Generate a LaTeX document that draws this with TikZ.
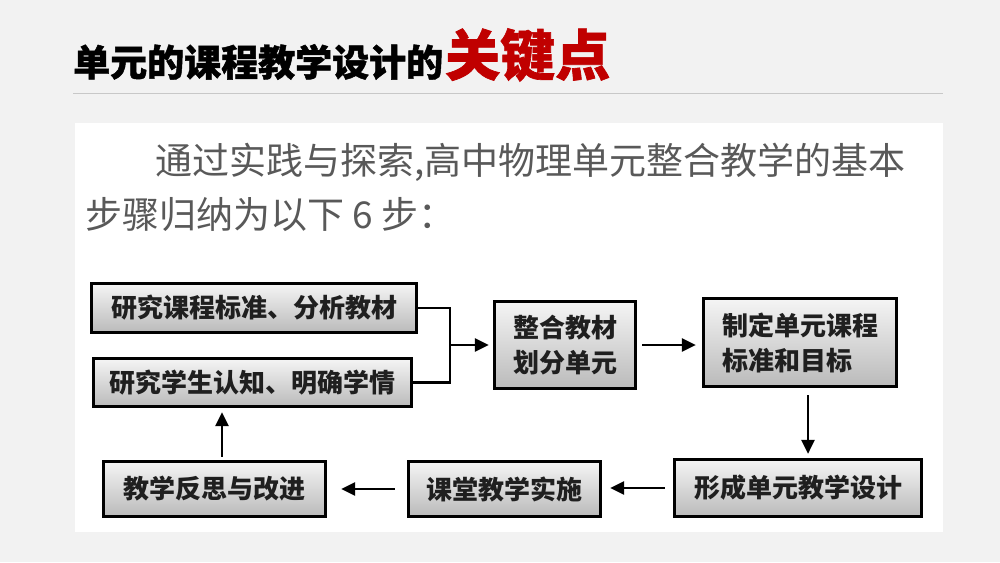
\documentclass[tikz,border=0pt]{standalone}
\usepackage{fontspec}
\usetikzlibrary{arrows.meta}
\newfontfamily\hei{Noto Sans CJK SC}
\newfontfamily\titlef{Noto Sans CJK SC}[BoldFeatures={FakeBold=1.2}]
\definecolor{bgc}{HTML}{F2F2F2}
\definecolor{titlered}{HTML}{C00000}
\definecolor{introc}{HTML}{595959}
\definecolor{rulec}{HTML}{C8C8C8}
\begin{document}
\begin{tikzpicture}[x=1pt,y=-1pt,
  % the y axis points down here, so the shading's "bottom" colour shows at the visual top
  stepbox/.style={draw=black, line width=3.2pt, top color=white!96!black, bottom color=black!27,
    inner sep=0pt, text=black!88, font=\hei\bfseries\fontsize{26}{35}\selectfont},
  intro/.style={anchor=west, inner sep=0pt, text=introc, font=\hei\fontsize{37}{37}\selectfont},
  arr/.style={line width=2.6pt, -{Triangle[length=14pt,width=13pt]}},
  link/.style={line width=2.6pt}]
\fill[bgc] (0,0) rectangle (1000,562);
\useasboundingbox (0,0) rectangle (1000,562);
% title
\node[anchor=west, inner sep=0pt, font=\titlef\bfseries\fontsize{37}{37}\selectfont] (t1) at (73,62) {单元的课程教学设计的};
\node[anchor=west, inner sep=0pt, text=titlered, font=\titlef\bfseries\fontsize{55}{55}\selectfont] (t2) at (445,55) {关键点};
\draw[rulec, line width=1pt] (73,93) -- (943,93);
% panel
\fill[white] (75,123) rectangle (943,532);
\node[intro] (p1) at (155,162) {通过实践与探索,高中物理单元整合教学的基本};
\node[intro] (p2) at (85,215) {步骤归纳为以下 6 步：};
% boxes
\node[stepbox, minimum width=325pt, minimum height=49pt] (A) at (254,308) {研究课程标准、分析教材};
\node[stepbox, minimum width=318pt, minimum height=48pt] (B) at (252.5,382.5) {研究学生认知、明确学情};
\node[stepbox, minimum width=141pt, minimum height=87pt, align=center] (C) at (565,345) {整合教材\\划分单元};
\node[stepbox, minimum width=193pt, minimum height=88pt, align=left] (D) at (800,342.5) {制定单元课程\\标准和目标};
\node[stepbox, minimum width=247pt, minimum height=57pt] (E) at (798,488) {形成单元教学设计};
\node[stepbox, minimum width=192pt, minimum height=55pt] (F) at (504.5,489) {课堂教学实施};
\node[stepbox, minimum width=222pt, minimum height=55pt] (G) at (214.5,489) {教学反思与改进};
% connectors
\coordinate (jn) at (450,345);
\draw[link] (A.east) -| (jn) |- (B.east);
\draw[arr, shorten >=4pt] (jn) -- (jn -| C.west);
\draw[arr, shorten <=5pt, shorten >=6pt] (C.east) -- (C.east -| D.west);
\draw[arr, shorten <=7pt, shorten >=4pt] ([xshift=8pt]D.south) -- ([xshift=8pt]D.south |- E.north);
\draw[arr, shorten <=8pt, shorten >=8pt] (E.west) -- (E.west -| F.east);
\draw[arr, shorten <=12pt, shorten >=14pt] (F.west) -- (F.west -| G.east);
\draw[arr, shorten <=3pt, shorten >=4pt] ([xshift=7.5pt]G.north) -- ([xshift=7.5pt]G.north |- B.south);
\end{tikzpicture}
\end{document}
